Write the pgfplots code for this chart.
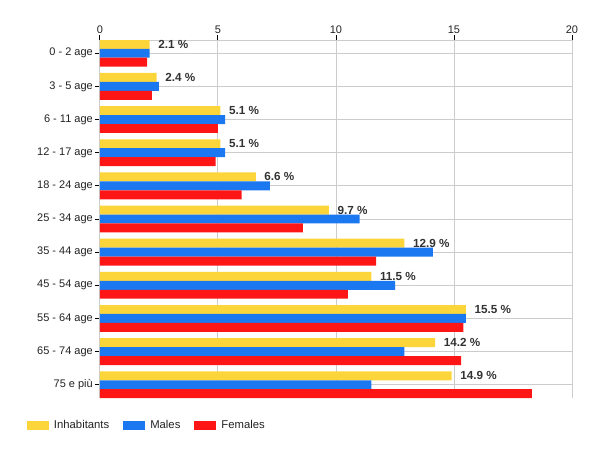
\documentclass[border=0pt]{standalone}
\usepackage{fontspec}
\setmainfont{Liberation Sans}
\usepackage{pgfplots}
\pgfplotsset{compat=1.18}
\definecolor{cyel}{RGB}{252,213,58}
\definecolor{cblu}{RGB}{27,120,240}
\definecolor{cred}{RGB}{254,22,22}
\definecolor{gridc}{RGB}{204,204,204}
\definecolor{txt}{RGB}{34,34,34}
\definecolor{lbl}{RGB}{51,51,51}
\begin{document}
\begin{tikzpicture}
\begin{axis}[
  width=472pt, height=358pt, scale only axis,
  xbar, y dir=reverse,
  xmin=0, xmax=20, ymin=-0.4, ymax=10.4,
  bar width=0.27,
  axis x line*=top, axis y line*=left,
  axis line style={gridc, line width=1pt},
  xtick={0,5,10,15,20},
  ytick={0,1,2,3,4,5,6,7,8,9,10},
  yticklabels={0 - 2 age,3 - 5 age,6 - 11 age,12 - 17 age,18 - 24 age,25 - 34 age,35 - 44 age,45 - 54 age,55 - 64 age,65 - 74 age,75 e più},
  tick align=outside,
  major tick length=5pt,
  tick style={black, line width=1pt},
  xmajorgrids, ymajorgrids,
  grid style={gridc, line width=1pt},
  /pgf/number format/assume math mode=true,
  ticklabel style={font=\fontsize{11}{13}\selectfont, text=txt},
  xticklabel style={inner sep=0pt, yshift=1.5pt},
  yticklabel style={inner sep=0pt, xshift=-2pt},
  legend columns=3,
  legend image code/.code={\fill[#1,/tikz/.cd,draw=none] (0pt,-4.2pt) rectangle (22pt,4.2pt);},
  legend style={at={(-0.1547,-0.0765)}, anchor=west, draw=none, fill=none,
    inner sep=0pt, outer sep=0pt, font=\fontsize{11.3}{13}\selectfont, text=txt,
    nodes={inner sep=0pt},
    /tikz/every odd column/.append style={column sep=5pt},
    /tikz/every even column/.append style={column sep=14pt}},
  legend cell align=left,
]
\addplot[fill=cyel, draw=none, bar shift=-0.27,
  point meta=explicit symbolic, nodes near coords,
  every node near coord/.append style={anchor=west, inner sep=0pt, xshift=8.5pt,
    font=\bfseries\fontsize{11.7}{13}\selectfont, text=lbl}]
 coordinates {
 (2.1,0) [2.1 \%]
 (2.4,1) [2.4 \%]
 (5.1,2) [5.1 \%]
 (5.1,3) [5.1 \%]
 (6.6,4) [6.6 \%]
 (9.7,5) [9.7 \%]
 (12.9,6) [12.9 \%]
 (11.5,7) [11.5 \%]
 (15.5,8) [15.5 \%]
 (14.2,9) [14.2 \%]
 (14.9,10) [14.9 \%]
 };
\addlegendentry{Inhabitants}
\addplot[fill=cblu, draw=none, bar shift=0]
 coordinates {
 (2.1,0) (2.5,1) (5.3,2) (5.3,3) (7.2,4) (11.0,5) (14.1,6) (12.5,7) (15.5,8) (12.9,9) (11.5,10)
 };
\addlegendentry{Males}
\addplot[fill=cred, draw=none, bar shift=0.27]
 coordinates {
 (2.0,0) (2.2,1) (5.0,2) (4.9,3) (6.0,4) (8.6,5) (11.7,6) (10.5,7) (15.4,8) (15.3,9) (18.3,10)
 };
\addlegendentry{Females}
\coordinate (TL) at (axis cs:0,-0.4);
\end{axis}
\pgfresetboundingbox
\path[use as bounding box] (TL) ++(-100pt,40pt) rectangle ++(600pt,-450pt);
\end{tikzpicture}
\end{document}
